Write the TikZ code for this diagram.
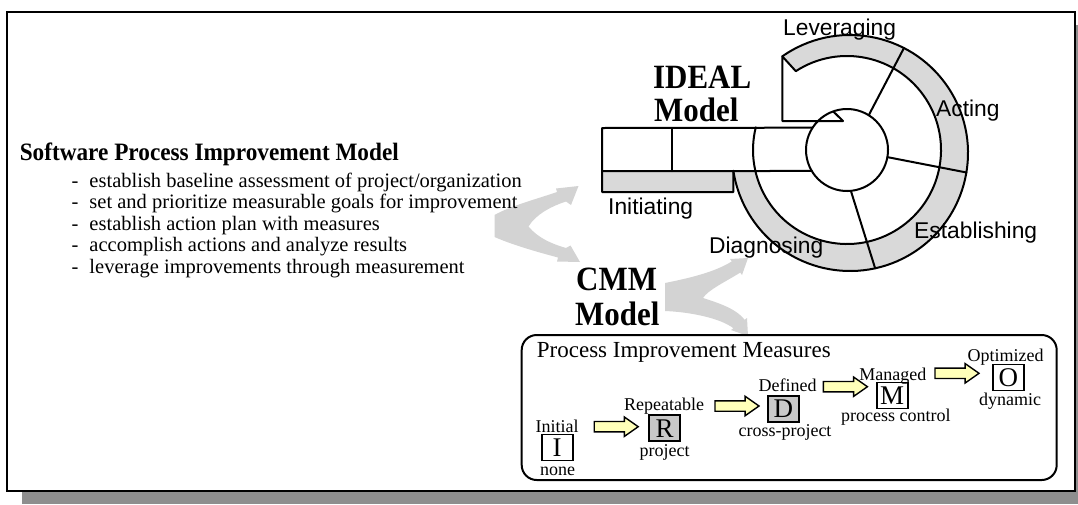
\documentclass[tikz,border=0pt]{standalone}
\usepackage{fontspec}
\setmainfont{Liberation Serif}
\newfontfamily\labelfont{Liberation Sans}
\usepackage{graphicx}
\usetikzlibrary{calc,shapes.arrows}

\definecolor{ringgray}{RGB}{217,217,217}
\definecolor{forkgray}{RGB}{211,211,211}
\definecolor{shadowgray}{RGB}{142,142,142}
\definecolor{stagegray}{RGB}{200,200,200}
\definecolor{paleyellow}{RGB}{255,255,185}

\newcommand{\fsz}[1]{\fontsize{#1}{#1}\selectfont}

\begin{document}
\begin{tikzpicture}[x=1pt,y=-1pt,
  txt/.style={inner sep=0pt, anchor=base west},
  wheel/.style={line width=2pt, line join=round, line cap=round},
  phase/.style={txt, font=\labelfont\fsz{22.8}},
  bigbold/.style={txt, font=\bfseries\fsz{34}},
  bullet/.style={txt, font=\fsz{20.5}},
  stagebox/.style={draw, line width=1.8pt, minimum width=31pt, minimum height=26pt, inner sep=0pt, font=\fsz{27}},
  stagetxt/.style={inner sep=0pt, anchor=base, font=\fsz{18}},
  blockarrow/.style={single arrow, draw, line width=1.4pt, fill=paleyellow,
    minimum height=44pt, inner sep=4.5pt, single arrow head extend=4.5pt,
    single arrow tip angle=70, single arrow head indent=0pt},
]
\useasboundingbox (0,0) rectangle (1078,504);

% drop shadow and frame
\fill[shadowgray] (22,25) rectangle (1078,504);
\draw[line width=2.5pt, fill=white] (7,12) rectangle (1075,491);

% wide gray fork arrows
\fill[forkgray] (494.5,215)
  .. controls (510,206) and (540,198) .. (557,192)
  -- (556,188.5) -- (578.5,186) -- (571,205) -- (566,201.5)
  .. controls (552,206) and (536,214) .. (528.5,226.5)
  .. controls (538,238) and (552,244) .. (566,248)
  -- (570.5,245.5) -- (580,262) -- (557,261.5) -- (558,257.5)
  .. controls (545,254) and (515,246) .. (494.5,237) -- cycle;
\fill[forkgray] (665,283)
  .. controls (690,278) and (715,272) .. (731.8,261.4)
  -- (730,259) -- (748,258) -- (742,275) -- (740.2,272.6)
  .. controls (725,282) and (708,290) .. (703,298)
  .. controls (715,302) and (735.6,307.8) .. (744.6,319.8)
  -- (747,318) -- (748,336) -- (731,330) -- (733.4,328.2)
  .. controls (720,318) and (690,312) .. (665,311) -- cycle;

% IDEAL wheel
\coordinate (O) at (850,153);   % outer ring centre
\coordinate (C) at (847,150);   % inner circles centre
\coordinate (levOut) at ($(O)+(-125:118)$);
\coordinate (levIn)  at ($(C)+(-123:94)$);
\coordinate (arrBL)  at (782.3,121);
\coordinate (arrTip) at (843,121);

\fill[ringgray] (levOut) arc[start angle=-125, end angle=171.3, radius=118]
  -- ($(C)+(167.1:94)$) arc[start angle=167.1, end angle=-123, radius=94] -- cycle;
\fill[ringgray] (602,171) rectangle (733.4,192);

\draw[wheel] (levOut) arc[start angle=-125, end angle=171.3, radius=118];
\draw[wheel] (levIn) arc[start angle=-123, end angle=194, radius=94];
\draw[wheel] ($(C)+(-147:41)$) arc[start angle=-147, end angle=250.3, radius=41]
  -- (arrTip) -- (arrBL) -- (levOut) -- (levIn);
% spokes
\draw[wheel] ($(C)+(-58:41)$) -- ($(O)+(-62.8:118)$);
\draw[wheel] ($(C)+(10:41)$) -- ($(O)+(9.5:118)$);
\draw[wheel] ($(C)+(84.6:41)$) -- ($(O)+(77.7:118)$);
% initiating bar
\draw[wheel] ($(C)+(-147:41)$) -- (602,128) -- (602,192) -- (733.4,192) -- (733.4,170.8);
\draw[wheel] (602,171) -- ($(C)+(149.2:41)$);
\draw[wheel] (672,128) -- (672,171);

% phase labels
\node[phase] (lev) at (783,35) {Leveraging};
\node[phase] (act) at (936,116.7) {Acting};
\node[phase] (est) at (914,238) {Establishing};
\node[phase] (ini) at (608,214) {Initiating};
\node[phase] (dia) at (709,253) {Diagnosing};

% model titles
\node[bigbold] (idealA) at (653,88) {\scalebox{0.91}[1]{IDEAL}};
\node[bigbold] (idealB) at (654,121.7) {\scalebox{0.91}[1]{Model}};
\node[bigbold] (cmmA) at (576,290) {\scalebox{0.91}[1]{CMM}};
\node[bigbold] (cmmB) at (575,325) {\scalebox{0.91}[1]{Model}};

% left text block
\node[txt, font=\bfseries\fsz{25}] (title) at (19.6,160) {\scalebox{0.93}[1]{Software Process Improvement Model}};
\node[bullet] (b1) at (71.4,187)   {\makebox[17.9pt][l]{-}establish baseline assessment of project/organization};
\node[bullet] (b2) at (71.4,208.5) {\makebox[17.9pt][l]{-}set and prioritize measurable goals for improvement};
\node[bullet] (b3) at (71.4,230)   {\makebox[17.9pt][l]{-}establish action plan with measures};
\node[bullet] (b4) at (71.4,251.7) {\makebox[17.9pt][l]{-}accomplish actions and analyze results};
\node[bullet] (b5) at (71.4,273.3) {\makebox[17.9pt][l]{-}leverage improvements through measurement};

% process improvement measures panel
\node[draw, line width=2pt, rounded corners=15pt, minimum width=535pt, minimum height=145pt, inner sep=0pt] (pim) at (789.2,407.5) {};
\node[txt, font=\fsz{23}] (pimtitle) at (536.7,357.3) {Process Improvement Measures};

\node[stagebox] (sI) at (557.2,447.5) {I};
\node[stagebox, fill=stagegray] (sR) at (664.7,428.3) {R};
\node[stagebox, fill=stagegray] (sD) at (783.3,408.8) {D};
\node[stagebox] (sM) at (892.2,395.5) {M};
\node[stagebox] (sO) at (1008.3,377.5) {O};

\node[stagetxt] (tI) at (557.2,432.7) {Initial};
\node[stagetxt] (uI) at (557.5,475) {none};
\node[stagetxt] (tR) at (664,410.7) {Repeatable};
\node[stagetxt] (uR) at (664.7,456.7) {project};
\node[stagetxt] (tD) at (787.5,391.7) {Defined};
\node[stagetxt] (uD) at (785,436.7) {cross-project};
\node[stagetxt] (tM) at (892.9,380) {Managed};
\node[stagetxt] (uM) at (895.8,421.7) {process control};
\node[stagetxt] (tO) at (1005.5,361.7) {Optimized};
\node[stagetxt] (uO) at (1010,405.7) {dynamic};

\node[blockarrow] (a1) at (612.5,426.7) {};
\node[blockarrow] (a2) at (733.3,406) {};
\node[blockarrow] (a3) at (841.7,386.7) {};
\node[blockarrow] (a4) at (953.3,373.3) {};
\end{tikzpicture}
\end{document}
